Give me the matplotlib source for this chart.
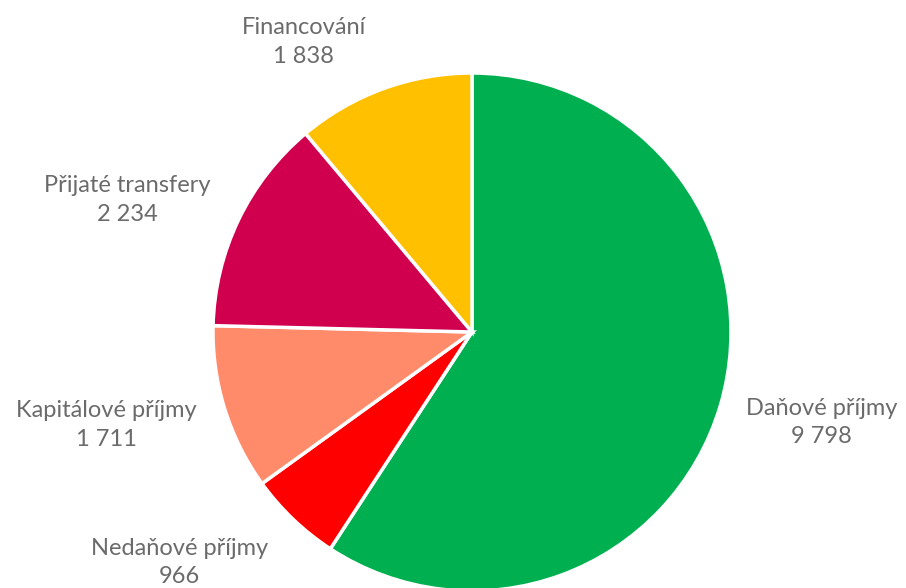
import matplotlib
matplotlib.use("Agg")
import matplotlib.pyplot as plt

# data
categories = ["Daňové příjmy", "Nedaňové příjmy", "Kapitálové příjmy",
              "Přijaté transfery", "Financování"]
values = [9798, 966, 1711, 2234, 1838]
colors = ["#00B050", "#FF0000", "#FF8B6A", "#D0004F", "#FFC000"]

# label centres relative to pie centre, in radius units
label_pos = [(1.35, -0.35), (-1.13, -0.89), (-1.41, -0.36),
             (-1.33, 0.51), (-0.65, 1.12)]

plt.rcParams['font.family'] = ['Lato', 'DejaVu Sans']

fig = plt.figure(figsize=(9.06, 5.88), dpi=100)
cx, cy, r = 472, 588 - 332, 259
ax = fig.add_axes([(cx - r) / 906, (cy - r) / 588, 2 * r / 906, 2 * r / 588])
ax.pie(values, colors=colors, startangle=90, counterclock=False, radius=1,
       wedgeprops=dict(edgecolor="white", linewidth=2.5))
ax.set_xlim(-1, 1)
ax.set_ylim(-1, 1)
ax.set_aspect("equal")
ax.axis("off")

def fmt(v):
    return f"{v:,}".replace(",", " ")

for name, v, (x, y) in zip(categories, values, label_pos):
    ax.text(x, y, f"{name}\n{fmt(v)}", ha="center", va="center",
            fontsize=17, color="#6B6B6B", linespacing=1.45, clip_on=False)

fig.savefig("out.png", dpi=100)
